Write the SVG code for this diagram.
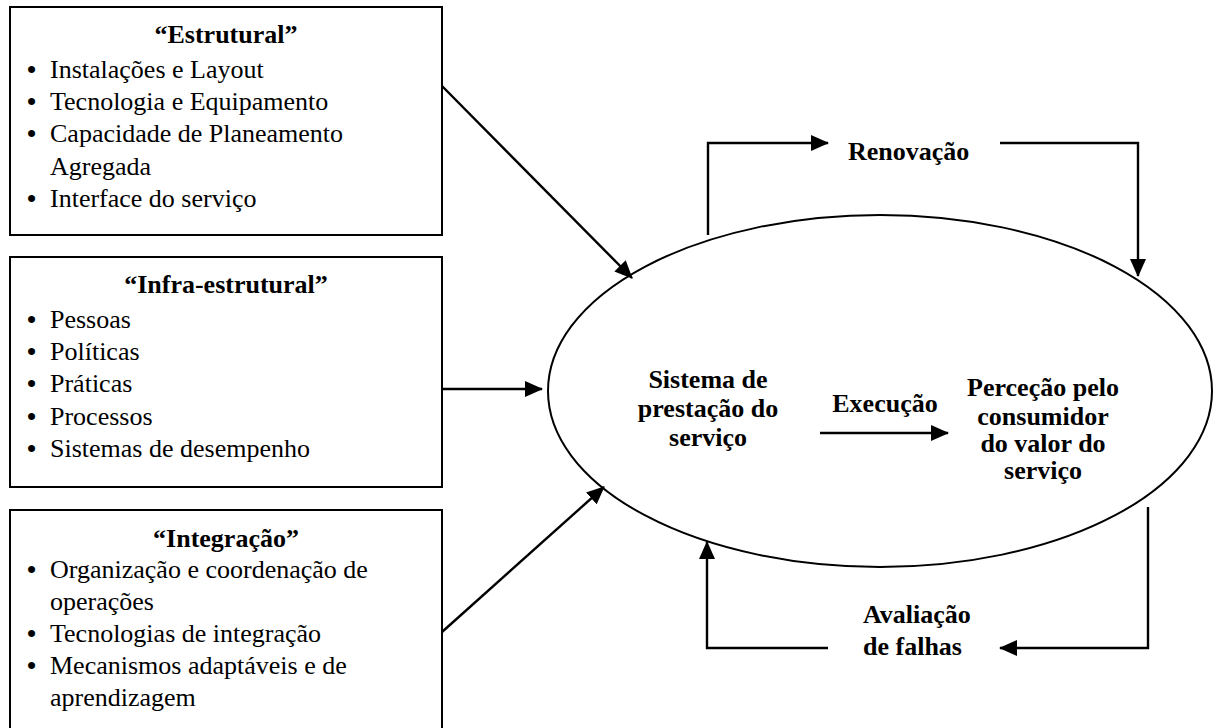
<svg xmlns="http://www.w3.org/2000/svg" width="1221" height="728" viewBox="0 0 1221 728">
  <style>
    .box { fill: #fff; stroke: #000; stroke-width: 2; }
    .t { font-family: "Liberation Serif", "Times New Roman", serif; font-size: 26px; fill: #000; }
    .b { font-weight: bold; }
    .c { text-anchor: middle; }
    .bl { font-weight: bold; }
    .ln { fill: none; stroke: #000; stroke-width: 2.4; }
    .arr { marker-end: url(#head); }
  </style>
  <defs>
    <marker id="head" markerUnits="userSpaceOnUse" markerWidth="18" markerHeight="16" refX="17" refY="8" orient="auto">
      <path d="M0,0 L18,8 L0,16 Z" fill="#000"/>
    </marker>
  </defs>
  <rect width="1221" height="728" fill="#fff"/>

  <!-- Structural factors -->
  <g id="estrutural">
    <rect class="box" x="10" y="7" width="432" height="228"/>
    <text class="t b c" x="226" y="43">“Estrutural”</text>
    <text class="t" y="78"><tspan class="bl" x="27">•</tspan><tspan x="50">Instalações e Layout</tspan></text>
    <text class="t" y="110"><tspan class="bl" x="27">•</tspan><tspan x="50">Tecnologia e Equipamento</tspan></text>
    <text class="t" y="142"><tspan class="bl" x="27">•</tspan><tspan x="50">Capacidade de Planeamento</tspan></text>
    <text class="t" x="50" y="175">Agregada</text>
    <text class="t" y="207"><tspan class="bl" x="27">•</tspan><tspan x="50">Interface do serviço</tspan></text>
  </g>

  <!-- Infrastructural factors -->
  <g id="infra-estrutural">
    <rect class="box" x="10" y="257" width="432" height="230"/>
    <text class="t b c" x="226" y="293">“Infra-estrutural”</text>
    <text class="t" y="328"><tspan class="bl" x="27">•</tspan><tspan x="50">Pessoas</tspan></text>
    <text class="t" y="360"><tspan class="bl" x="27">•</tspan><tspan x="50">Políticas</tspan></text>
    <text class="t" y="392"><tspan class="bl" x="27">•</tspan><tspan x="50">Práticas</tspan></text>
    <text class="t" y="425"><tspan class="bl" x="27">•</tspan><tspan x="50">Processos</tspan></text>
    <text class="t" y="457"><tspan class="bl" x="27">•</tspan><tspan x="50">Sistemas de desempenho</tspan></text>
  </g>

  <!-- Integration factors -->
  <g id="integracao">
    <rect class="box" x="10" y="510" width="432" height="240"/>
    <text class="t b c" x="226" y="547">“Integração”</text>
    <text class="t" y="578"><tspan class="bl" x="27">•</tspan><tspan x="50">Organização e coordenação de</tspan></text>
    <text class="t" x="50" y="610">operações</text>
    <text class="t" y="642"><tspan class="bl" x="27">•</tspan><tspan x="50">Tecnologias de integração</tspan></text>
    <text class="t" y="674"><tspan class="bl" x="27">•</tspan><tspan x="50">Mecanismos adaptáveis e de</tspan></text>
    <text class="t" x="50" y="706">aprendizagem</text>
  </g>

  <!-- Service delivery system -->
  <g id="sistema">
    <ellipse cx="880" cy="391" rx="332" ry="176" fill="none" stroke="#000" stroke-width="2"/>
    <text class="t b c" x="708" y="388">Sistema de</text>
    <text class="t b c" x="708" y="417">prestação do</text>
    <text class="t b c" x="708" y="446">serviço</text>
    <text class="t b c" x="1043" y="396">Perceção pelo</text>
    <text class="t b c" x="1043" y="425">consumidor</text>
    <text class="t b c" x="1043" y="452">do valor do</text>
    <text class="t b c" x="1043" y="479">serviço</text>
  </g>

  <g id="labels">
    <text class="t b c" x="885" y="412">Execução</text>
    <text class="t b" x="848" y="160">Renovação</text>
    <text class="t b" x="863" y="623">Avaliação</text>
    <text class="t b" x="863" y="655">de falhas</text>
  </g>

  <g id="connectors">
    <path class="ln arr" d="M442,86 L632,278"/>
    <path class="ln arr" d="M442,389 L542,389"/>
    <path class="ln arr" d="M442,632 L604,487"/>
    <path class="ln arr" d="M820,433 L948,433"/>
    <path class="ln arr" d="M708,235 V143 H828"/>
    <path class="ln arr" d="M1000,143 H1138 V276"/>
    <path class="ln arr" d="M1148,507 V648 H1000"/>
    <path class="ln arr" d="M828,648 H707 V542"/>
  </g>
</svg>
